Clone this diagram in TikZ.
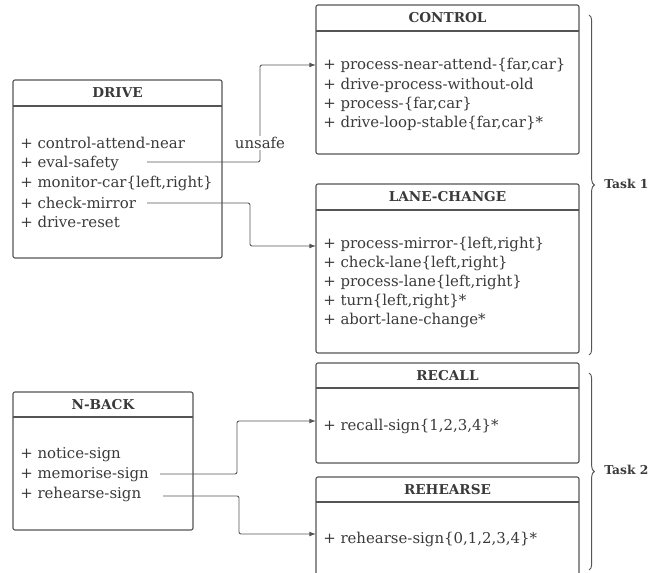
\documentclass[tikz,border=0pt]{standalone}
\usepackage{fontspec}
\setmainfont{DejaVu Serif}
\usetikzlibrary{arrows.meta, decorations.pathreplacing}

\definecolor{ink}{HTML}{3A3A3A}
\definecolor{edge}{HTML}{555555}

\tikzset{
  classbox/.style={draw=edge, line width=0.85pt, rounded corners=1.5pt},
  headline/.style={draw=edge, line width=0.85pt},
  title/.style={font=\bfseries\fontsize{10.2}{12}\selectfont, text=ink, inner sep=0pt},
  tasklabel/.style={anchor=west, font=\bfseries\fontsize{9.2}{11}\selectfont, text=ink, inner sep=0pt},
  item/.style={anchor=west, inner sep=0pt, font=\fontsize{11.2}{13}\selectfont, text=ink},
  link/.style={draw=edge, line width=0.65pt, rounded corners=1.5pt, -{Latex[length=5pt,width=3.6pt]}},
  taskbrace/.style={draw=edge, line width=0.7pt, decorate, decoration={brace, amplitude=4pt}},
}

\begin{document}
\begin{tikzpicture}[x=0.75pt,y=-0.75pt]
\useasboundingbox (0,0) rectangle (666,573);
%--------------------------------------------------- DRIVE
\draw[classbox] (13,80) rectangle (222,258);
\draw[headline] (13,106) -- (222,106);
\node[title] (drive) at (117.5,93) {DRIVE};
\node[item] (d1) at (20,143) {+ control-attend-near};
\node[item] (d2) at (20,163) {+ eval-safety};
\node[item] (d3) at (20,183) {+ monitor-car\{left,right\}};
\node[item] (d4) at (20,203) {+ check-mirror};
\node[item] (d5) at (20,222) {+ drive-reset};
%--------------------------------------------------- CONTROL
\draw[classbox] (316,5) rectangle (579,154);
\draw[headline] (316,31) -- (579,31);
\node[title] (control) at (447.5,18) {CONTROL};
\node[item] (c1) at (323,65) {+ process-near-attend-\{far,car\}};
\node[item] (c2) at (323,85) {+ drive-process-without-old};
\node[item] (c3) at (323,104) {+ process-\{far,car\}};
\node[item] (c4) at (323,123) {+ drive-loop-stable\{far,car\}*};
%--------------------------------------------------- LANE-CHANGE
\draw[classbox] (316,184) rectangle (579,353);
\draw[headline] (316,210) -- (579,210);
\node[title] (lane) at (447.5,197) {LANE-CHANGE};
\node[item] (l1) at (323,244) {+ process-mirror-\{left,right\}};
\node[item] (l2) at (323,263) {+ check-lane\{left,right\}};
\node[item] (l3) at (323,282) {+ process-lane\{left,right\}};
\node[item] (l4) at (323,301) {+ turn\{left,right\}*};
\node[item] (l5) at (323,320) {+ abort-lane-change*};
%--------------------------------------------------- N-BACK
\draw[classbox] (13,392) rectangle (193,530);
\draw[headline] (13,417) -- (193,417);
\node[title] (nback) at (103,404.5) {N-BACK};
\node[item] (n1) at (20,455) {+ notice-sign};
\node[item] (n2) at (20,475) {+ memorise-sign};
\node[item] (n3) at (20,494) {+ rehearse-sign};
%--------------------------------------------------- RECALL
\draw[classbox] (316,363) rectangle (579,463);
\draw[headline] (316,388) -- (579,388);
\node[title] (recall) at (447.5,375.5) {RECALL};
\node[item] (r1) at (323,426) {+ recall-sign\{1,2,3,4\}*};
%--------------------------------------------------- REHEARSE
\draw[classbox] (316,580) -- (316,477) -- (579,477) -- (579,580);
\draw[headline] (316,502) -- (579,502);
\node[title] (rehearse) at (447.5,489.5) {REHEARSE};
\node[item] (h1) at (323,539) {+ rehearse-sign\{0,1,2,3,4\}*};
%--------------------------------------------------- links
\coordinate (evalout) at (147,162);
\coordinate (mirrorout) at (147,203);
\coordinate (memout) at (160,474);
\coordinate (rehout) at (163,496);
\coordinate (controlin) at (316,65);
\coordinate (lanein) at (316,246);
\coordinate (recallin) at (316,421);
\coordinate (rehearsein) at (316,534);
\draw[link] (evalout) -- (260,162) -- (260,65) -- (controlin);
\node[item, anchor=center, fill=white, inner sep=1pt] (unsafe) at (260,143) {unsafe};
\draw[link] (mirrorout) -- (250,203) -- (250,246) -- (lanein);
\draw[link] (memout) -- (237,474) -- (237,421) -- (recallin);
\draw[link] (rehout) -- (239,496) -- (239,534) -- (rehearsein);
%--------------------------------------------------- tasks
\draw[taskbrace] (589,15) -- (589,355);
\node[tasklabel] (task1) at (604,184) {Task 1};
\draw[taskbrace] (589,373) -- (589,570);
\node[tasklabel] (task2) at (604,470) {Task 2};
\end{tikzpicture}
\end{document}
